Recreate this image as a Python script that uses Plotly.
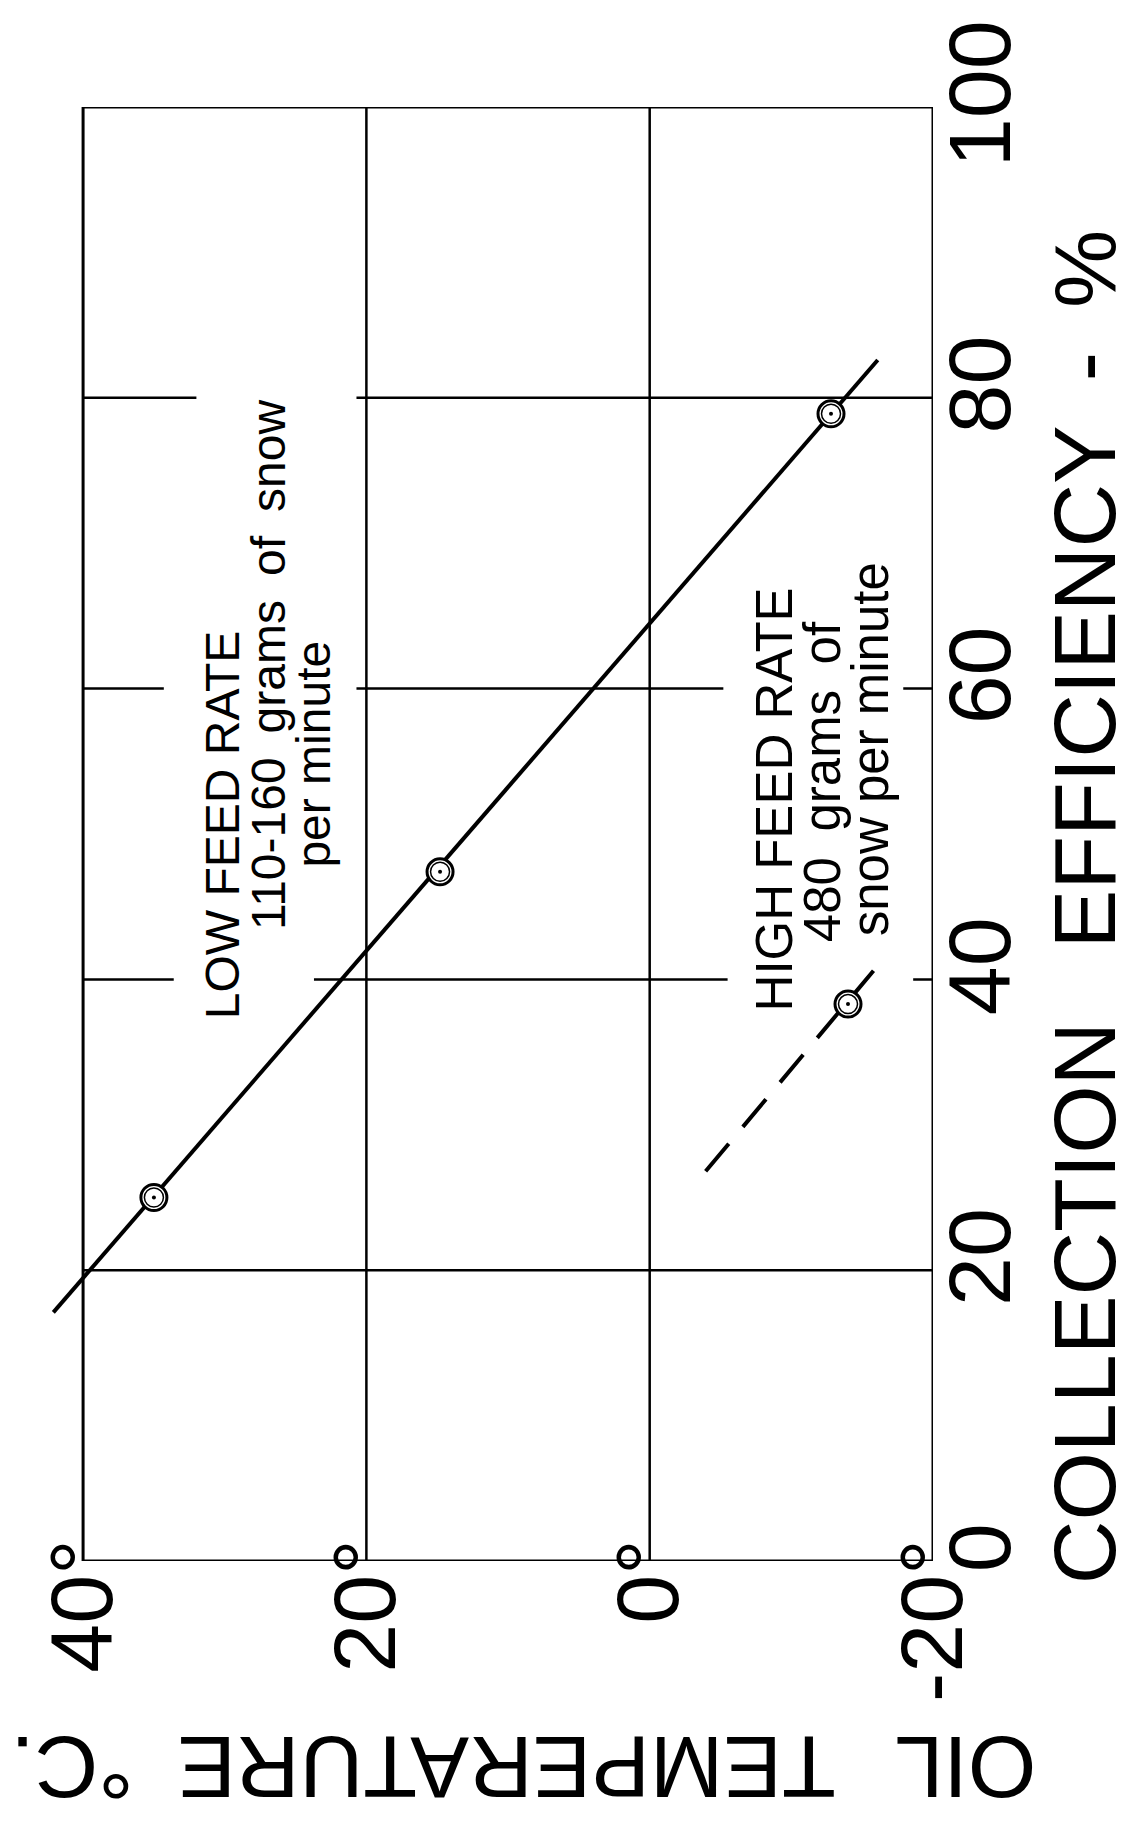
import plotly.graph_objects as go

# ---------------- data ----------------
# x = oil temperature (deg C), y = collection efficiency (%)
low_temp = [35.0, 14.8, -12.8]
low_eff = [25.0, 47.4, 78.9]
low_fit_temp = [42.1, -16.1]
low_fit_eff = [17.1, 82.6]

high_temp = [-14.0]
high_eff = [38.3]
high_fit_temp = [-3.95, -15.8]
high_fit_eff = [26.8, 40.6]

temp_ticks = [40, 20, 0, -20]
temp_ticktext = ["40°", "20°", "0°", "-20°"]
eff_ticks = [0, 20, 40, 60, 80, 100]
eff_ticktext = ["0", "20", "40", "60", "80", "100"]

temp_grid = [20, 0]
eff_grid = [20, 40, 60, 80]
# gaps in the horizontal grid lines where the lettering sits: (eff, temp_from, temp_to)
grid_gaps = [(80, 32.0, 20.7), (60, 34.3, 20.7), (60, -5.2, -17.9),
             (40, 33.6, 23.7), (40, -5.5, -18.6)]

low_label_lines = ["LOW FEED RATE", "110-160\u2002grams\u2002of\u2002snow", "per minute"]
low_label_temp = [30.2, 26.9, 23.8]
low_label_eff = [50.6, 61.6, 55.5]
high_label_lines = ["HIGH FEED RATE", "480\u2002grams\u2002of", "snow per minute"]
high_label_temp = [-8.8, -12.2, -15.6]
high_label_eff = [52.4, 53.6, 55.8]

FONT = "Liberation Sans, Arial, sans-serif"
INK = "#000000"

fig = go.Figure()

# fitted lines
fig.add_trace(go.Scatter(x=low_fit_temp, y=low_fit_eff, mode="lines",
                         line=dict(color=INK, width=4), showlegend=False))
fig.add_trace(go.Scatter(x=high_fit_temp, y=high_fit_eff, mode="lines",
                         line=dict(color=INK, width=4, dash="36px,22px"), showlegend=False))

# data points: double ring with centre dot
for xs, ys in [(low_temp, low_eff), (high_temp, high_eff)]:
    fig.add_trace(go.Scatter(x=xs, y=ys, mode="markers", cliponaxis=False,
                             marker=dict(symbol="circle", size=26, color="white",
                                         line=dict(color=INK, width=3)), showlegend=False))
    fig.add_trace(go.Scatter(x=xs, y=ys, mode="markers", cliponaxis=False,
                             marker=dict(symbol="circle-open", size=19, color=INK,
                                         line=dict(color=INK, width=1.5)), showlegend=False))
    fig.add_trace(go.Scatter(x=xs, y=ys, mode="markers", cliponaxis=False,
                             marker=dict(symbol="circle", size=4, color=INK,
                                         line=dict(width=0)), showlegend=False))

shapes = []
# grid lines
for t in temp_grid:
    shapes.append(dict(type="line", xref="x", yref="y", x0=t, x1=t, y0=0, y1=100,
                       line=dict(color=INK, width=2.5), layer="below"))
for e in eff_grid:
    shapes.append(dict(type="line", xref="x", yref="y", x0=40, x1=-20, y0=e, y1=e,
                       line=dict(color=INK, width=2.5), layer="below"))
# white breaks in grid lines around lettering
for e, t0, t1 in grid_gaps:
    shapes.append(dict(type="rect", xref="x", yref="y", x0=t0, x1=t1, y0=e - 0.6, y1=e + 0.6,
                       fillcolor="white", line=dict(width=0), layer="below"))
# frame
shapes.append(dict(type="rect", xref="x", yref="y", x0=40, x1=-20, y0=0, y1=100,
                   line=dict(color=INK, width=3), layer="below"))

annotations = []
for txt, xt, ye in zip(low_label_lines, low_label_temp, low_label_eff):
    annotations.append(dict(x=xt, y=ye, xref="x", yref="y", text=txt, showarrow=False,
                            textangle=-90, xanchor="center", yanchor="middle",
                            font=dict(family=FONT, size=48, color=INK)))
for txt, xt, ye in zip(high_label_lines, high_label_temp, high_label_eff):
    annotations.append(dict(x=xt, y=ye, xref="x", yref="y", text=txt, showarrow=False,
                            textangle=-90, xanchor="center", yanchor="middle",
                            font=dict(family=FONT, size=51, color=INK)))

# axis titles
annotations.append(dict(x=1.170, y=0.450, xref="paper", yref="paper",
                        text="COLLECTION\u2002\u2004EFFICIENCY\u2002-\u2002%",
                        showarrow=False, textangle=-90, xanchor="center", yanchor="middle",
                        font=dict(family=FONT, size=88, color=INK)))
annotations.append(dict(x=0.540, y=-0.142, xref="paper", yref="paper",
                        text="OIL\u2002\u2006TEMPERATURE\u2002°C.",
                        showarrow=False, textangle=180, xanchor="center", yanchor="middle",
                        font=dict(family=FONT, size=88, color=INK)))

fig.update_layout(
    width=1133, height=1836, autosize=False,
    margin=dict(l=34, r=208, t=91, b=283, pad=0),
    paper_bgcolor="white", plot_bgcolor="white",
    shapes=shapes, annotations=annotations,
    xaxis=dict(range=[42.9, -20], showgrid=False, zeroline=False, showline=False,
               ticks="", tickmode="array", tickvals=temp_ticks, ticktext=temp_ticktext,
               tickangle=-90, tickfont=dict(family=FONT, size=88, color=INK),
               ticklabelstandoff=-40),
    yaxis=dict(range=[0, 100], side="right", showgrid=False, zeroline=False, showline=False,
               ticks="", tickmode="array", tickvals=eff_ticks, ticktext=eff_ticktext,
               tickangle=-90, tickfont=dict(family=FONT, size=88, color=INK),
               ticklabelstandoff=-12),
)

fig.write_html("out.html")
